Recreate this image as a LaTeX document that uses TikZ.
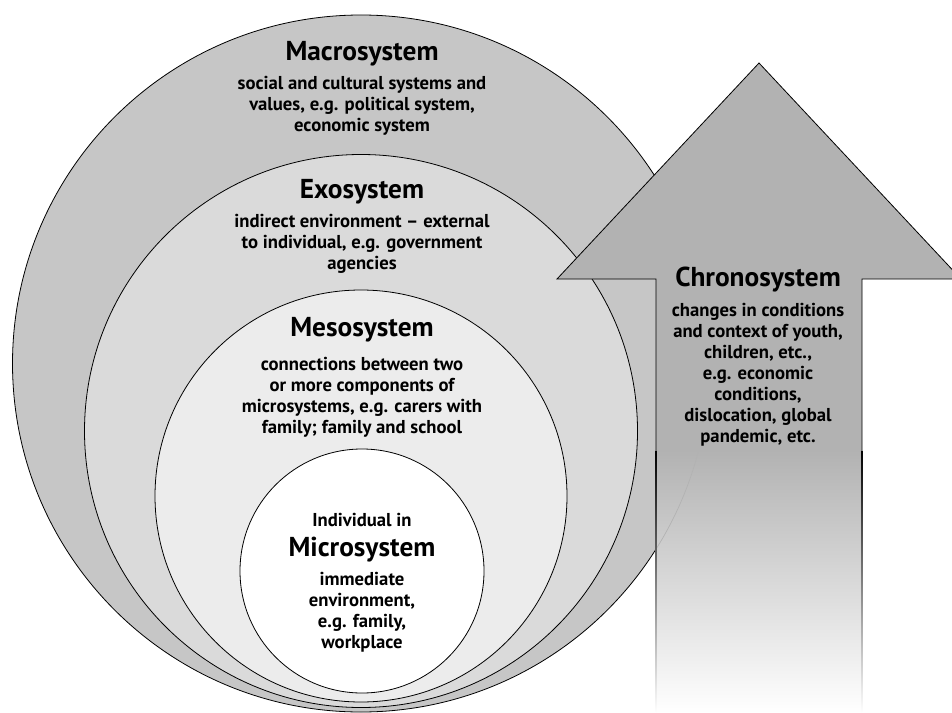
\documentclass[tikz,border=0pt]{standalone}
\usepackage{fontspec}
\setmainfont{PT Sans}
\definecolor{macroc}{HTML}{C6C6C6}
\definecolor{exoc}{HTML}{DADADA}
\definecolor{mesoc}{HTML}{ECECEC}
\definecolor{arrowc}{HTML}{B2B2B2}
\begin{document}
\begin{tikzpicture}[x=0.75pt,y=-0.75pt,
  ttl/.style={font=\fontsize{20.5}{22}\selectfont\bfseries, inner sep=0pt},
  body/.style={font=\fontsize{14}{15.75}\selectfont\bfseries, align=center, inner sep=0pt},
  ring/.style={draw=black, line width=0.6pt}]
\useasboundingbox (0,0) rectangle (952,713);
\begin{scope}
\clip (0,0) rectangle (952,713);
% circles
\coordinate (cMa) at (361,363.5);
\coordinate (cEx) at (361,431);
\coordinate (cMe) at (361,496);
\coordinate (cMi) at (362,571);
\filldraw[ring, fill=macroc] (cMa) circle (348.5);
\filldraw[ring, fill=exoc] (cEx) circle (276.5);
\filldraw[ring, fill=mesoc] (cMe) circle (206);
\filldraw[ring, fill=white] (cMi) circle (122);
% arrow
\coordinate (sL) at (656,450);
\coordinate (sR) at (862,450);
\coordinate (hL) at (656,279);
\coordinate (hR) at (862,279);
\coordinate (wL) at (557,279);
\coordinate (wR) at (961,279);
\coordinate (tip) at (759,63);
\coordinate (bL) at (656,713);
\coordinate (bR) at (862,713);
\fill[arrowc] (sL) -- (hL) -- (wL) -- (tip) -- (wR) -- (hR) -- (sR) -- cycle;
\shade[top color=arrowc, bottom color=white] (sL) rectangle (bR);
\begin{scope}
\clip (sL) rectangle (bR);
\draw[gray!60, line width=0.5pt] (cMa) circle (348.5);
\end{scope}
\shade[top color=black, bottom color=white] ([xshift=-0.3pt]sL) rectangle ([xshift=0.3pt]bL);
\shade[top color=black, bottom color=white] ([xshift=-0.3pt]sR) rectangle ([xshift=0.3pt]bR);
\draw[line width=0.6pt, line join=miter] (sL) -- (hL) -- (wL) -- (tip) -- (wR) -- (hR) -- (sR);
\end{scope}
% texts
\node[ttl] (maT) at (362,54) {Macrosystem};
\node[body] (maB) at (362,106) {social and cultural systems and\\values, e.g. political system,\\economic system};
\node[ttl] (exT) at (362,192) {Exosystem};
\node[body] (exB) at (362,244) {indirect environment -- external\\to individual, e.g. government\\agencies};
\node[ttl] (meT) at (362,330) {Mesosystem};
\node[body] (meB) at (362,397.5) {connections between two\\or more components of\\microsystems, e.g. carers with\\family; family and school};
\node[body] (miA) at (362,520) {Individual in};
\node[ttl] (miT) at (362,550) {Microsystem};
\node[body] (miB) at (362,612.5) {immediate\\environment,\\e.g. family,\\workplace};
\node[ttl] (chT) at (758,280) {Chronosystem};
\node[body] (chB) at (758,375) {changes in conditions\\and context of youth,\\children, etc.,\\e.g. economic\\conditions,\\dislocation, global\\pandemic, etc.};
\end{tikzpicture}
\end{document}
